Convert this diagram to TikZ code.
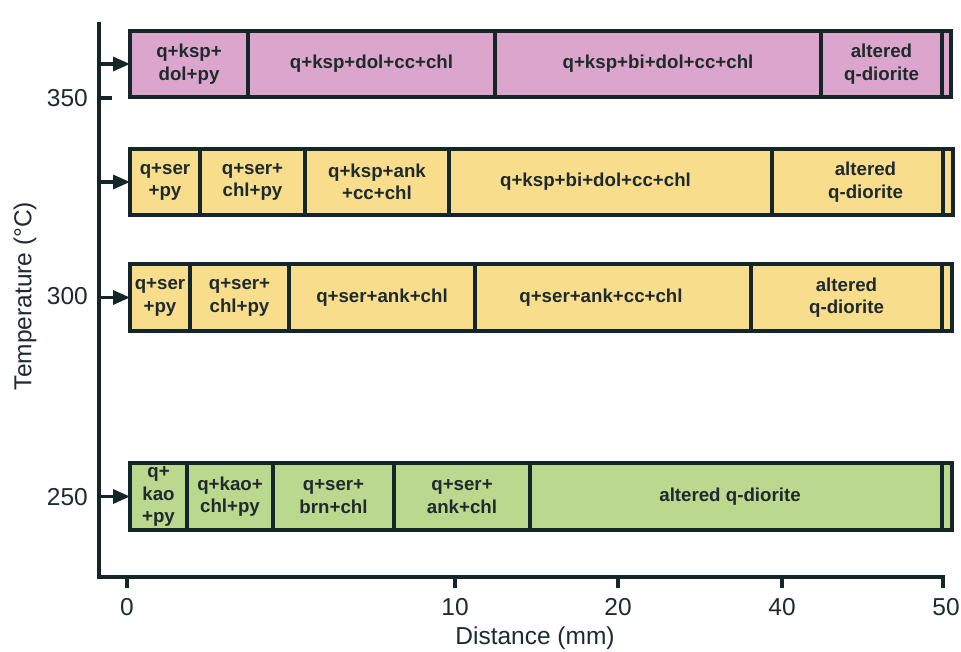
\documentclass[tikz,border=0pt]{standalone}
\usepackage{fontspec}
\setmainfont{Liberation Sans}
\usetikzlibrary{arrows.meta}
\definecolor{pinkz}{HTML}{DCA6CC}
\definecolor{yellowz}{HTML}{F8DE8C}
\definecolor{greenz}{HTML}{BAD98E}
\definecolor{linec}{HTML}{15262A}
\definecolor{textc}{HTML}{1E2A2E}
\newcommand\zonecell[7]{%
  \node[cell, fill=#6, minimum width={(#3-#2)*1pt}, minimum height={(#5-#4)*1pt}] (#1) at ({(#2+#3)/2},{(#4+#5)/2}) {#7};}
\begin{document}
\begin{tikzpicture}[x=1pt,y=-1pt,
  cell/.style={draw=linec, line width=3.4pt, inner sep=0pt, outer sep=0pt, align=center, text=textc,
    font=\fontsize{18.7}{22.4}\selectfont\bfseries},
  axisline/.style={draw=linec, line width=3.4pt},
  arrowz/.style={draw=linec, line width=3.2pt, -{Triangle[length=17pt,width=14pt]}},
  ticklab/.style={text=textc, font=\fontsize{24.5}{28}\selectfont, inner sep=0pt},
]
\useasboundingbox (0,0) rectangle (961,652);
% axes
\coordinate (ytop) at (99,22);
\coordinate (orig) at (99,577);
\coordinate (xend) at (943,577);
\draw[axisline, line join=miter] (ytop) -- (orig) -- (xend) -- ++(0,11);
% y ticks
\coordinate (y350) at (99,98);
\draw[axisline] (y350) -- ++(13,0);
\node[ticklab, anchor=east] (l350) at (88,98) {350};
\node[ticklab, anchor=east] (l300) at (88,296) {300};
\node[ticklab, anchor=east] (l250) at (88,497) {250};
% x ticks
\foreach \xx in {127,455,618,782} {
  \draw[axisline] (\xx,577) -- ++(0,11);
}
\node[ticklab] (x0) at (127,607) {0};
\node[ticklab] (x10) at (455,607) {10};
\node[ticklab] (x20) at (618,607) {20};
\node[ticklab] (x40) at (782,607) {40};
\node[ticklab] (x50) at (946,607) {50};
\node[ticklab] (xlab) at (535,638) {Distance (mm)};
\node[ticklab, rotate=90] (ylab) at (25,296) {Temperature (°C)};
% bar 1 (350)
\zonecell{a1}{130}{248}{31}{97}{pinkz}{q+ksp+\\dol+py}
\zonecell{a2}{248}{495}{31}{97}{pinkz}{q+ksp+dol+cc+chl}
\zonecell{a3}{495}{821}{31}{97}{pinkz}{q+ksp+bi+dol+cc+chl}
\zonecell{a4}{821}{942}{31}{97}{pinkz}{altered\\q-diorite}
\zonecell{a5}{942}{951}{31}{97}{pinkz}{}
% bar 2
\zonecell{b1}{130}{200}{149}{215}{yellowz}{q+ser\\+py}
\zonecell{b2}{200}{305}{149}{215}{yellowz}{q+ser+\\chl+py}
\zonecell{b3}{305}{449}{149}{215}{yellowz}{q+ksp+ank\\+cc+chl}
\zonecell{b4}{449}{772}{149}{215}{yellowz}{\hspace*{-30pt}q+ksp+bi+dol+cc+chl}
\zonecell{b5}{772}{943}{149}{215}{yellowz}{\hspace*{16pt}altered\\\hspace*{16pt}q-diorite}
\zonecell{b6}{943}{953}{149}{215}{yellowz}{}
% bar 3 (300)
\zonecell{c1}{130}{190}{264}{331}{yellowz}{q+ser\\+py}
\zonecell{c2}{190}{289}{264}{331}{yellowz}{q+ser+\\chl+py}
\zonecell{c3}{289}{475}{264}{331}{yellowz}{q+ser+ank+chl}
\zonecell{c4}{475}{751}{264}{331}{yellowz}{\hspace*{-24pt}q+ser+ank+cc+chl}
\zonecell{c5}{751}{942}{264}{331}{yellowz}{altered\\q-diorite}
\zonecell{c6}{942}{952}{264}{331}{yellowz}{}
% bar 4 (250)
\zonecell{d1}{130}{187}{463}{530}{greenz}{\fontsize{18.7}{20.5}\selectfont q+\\kao\\+py}
\zonecell{d2}{187}{273}{463}{530}{greenz}{q+kao+\\chl+py}
\zonecell{d3}{273}{394}{463}{530}{greenz}{q+ser+\\brn+chl}
\zonecell{d4}{394}{530}{463}{530}{greenz}{q+ser+\\ank+chl}
\zonecell{d5}{530}{942}{463}{530}{greenz}{\hspace*{-12pt}altered q-diorite}
\zonecell{d6}{942}{952}{463}{530}{greenz}{}
% arrows
\coordinate (p1) at (99,64);
\coordinate (p2) at (99,182);
\coordinate (p3) at (99,297.5);
\coordinate (p4) at (99,496.5);
\draw[arrowz] (p1) -- (a1.west);
\draw[arrowz] (p2) -- (b1.west);
\draw[arrowz] (p3) -- (c1.west);
\draw[arrowz] (p4) -- (d1.west);
\end{tikzpicture}
\end{document}
